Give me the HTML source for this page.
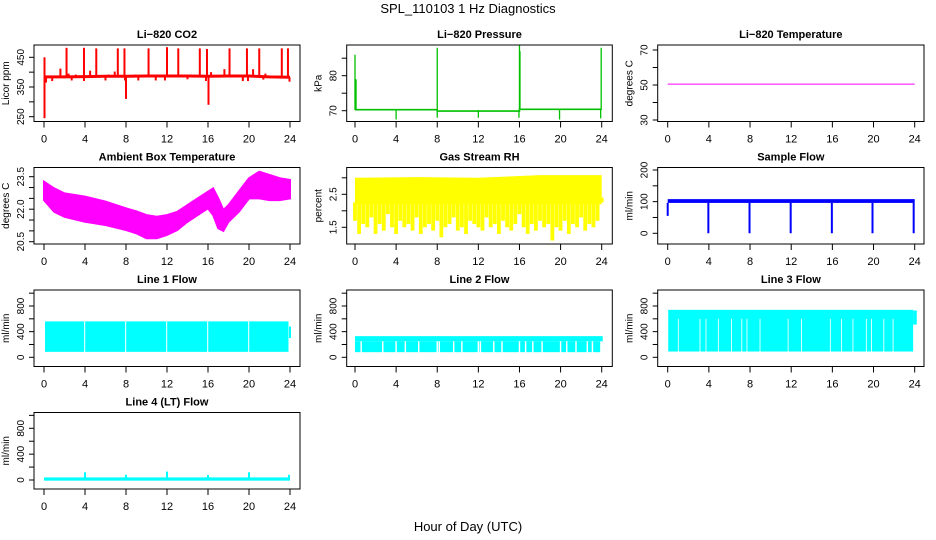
<!DOCTYPE html>
<html><head><meta charset="utf-8">
<style>
html,body{margin:0;padding:0;background:#fff;}
svg{display:block;font-family:"Liberation Sans",sans-serif;}
</style></head>
<body>
<svg id="chart" width="936" height="540" viewBox="0 0 936 540" xmlns="http://www.w3.org/2000/svg">
<text x="468" y="13" text-anchor="middle" font-size="13">SPL_110103  1 Hz Diagnostics</text>
<text x="468" y="531" text-anchor="middle" font-size="13">Hour of Day (UTC)</text>
</svg>
<script>
// ---- data ----
const xTicks = [0,4,8,12,16,20,24];
const co2BaseHours = [0,2,4,6,8,10,12,14,16,18,20,22,24];
const co2BaseVals = [384,384,385,386,386,387,387,387,386,387,387,384,383];
const co2UpSpikes = [[0.05,450],[1.6,412],[2.2,482],[2.4,395],[3.1,392],[3.9,482],[4.5,405],[5.1,480],[6.3,392],[6.9,402],[7.2,480],[7.85,480],[8.9,392],[10.2,480],[11.1,390],[12.0,484],[13.1,480],[14.2,392],[15.2,480],[15.9,478],[16.3,400],[17.6,410],[18.1,480],[19.8,480],[20.4,410],[21.0,480],[21.6,395],[23.2,480],[23.8,480]];
const co2DownSpikes = [[0.05,245],[0.2,365],[0.8,370],[2.7,372],[3.9,370],[6.0,372],[7.9,372],[8.0,310],[9.2,372],[10.9,372],[11.8,372],[14.0,376],[15.8,370],[16.05,290],[19.4,370],[19.9,370],[21.4,375],[23.95,368]];
const presBaseHours = [0,8,8,16,16,24];
const presBaseVals = [70.3,70.3,69.9,69.9,70.4,70.4];
const presSpikes = [[0.0,86],[0.1,79],[8.0,88],[16.0,89],[16.05,87],[23.95,88],[4,67.5],[8,68],[12,68],[15.95,68],[19.9,67.5],[23.9,67.8]];
const tempHours = [0,24];
const tempVals = [50.5,50.5];
const ambHours = [0,1,2,4,6,8,9,10,11,12,13,14,15,16,16.5,17,17.5,18,19,20,21,22,23,24];
const ambTop = [23.27,22.96,22.73,22.58,22.35,22.04,21.9,21.73,21.65,21.73,21.88,22.19,22.5,22.81,22.96,22.5,21.96,22.19,22.81,23.43,23.73,23.58,23.43,23.35];
const ambBot = [22.42,21.88,21.65,21.42,21.27,21.04,20.89,20.66,20.66,20.81,21.04,21.42,21.73,22.04,21.73,21.12,21.0,21.42,21.88,22.5,22.5,22.42,22.42,22.5];
const rhTopHours = [0,6,12,18,24];
const rhTop = [3.0,3.02,3.0,3.08,3.08];
const rhCoreBottom = 2.2;
const rhLow = [1.7,1.3,1.6,1.5,1.8,1.3,1.6,1.4,1.9,1.5,1.3,1.7,1.5,1.6,1.4,1.8,1.3,1.5,1.6,1.4,1.7,1.2,1.5,1.6,1.8,1.4,1.5,1.3,1.7,1.6,1.5,1.4,1.8,1.5,1.6,1.3,1.7,1.5,1.4,1.6,1.9,1.5,1.3,1.6,1.4,1.7,1.5,1.6,1.1,1.5,1.4,1.7,1.3,1.6,1.5,1.8,1.4,1.6,1.5,1.7,2.4];
const sfTop = 108, sfBottom = 96;
const sfDips = [[0.0,55],[3.95,0],[7.95,0],[11.95,0],[15.95,0],[19.9,0],[23.9,0]];
const l1Top = 560, l1Bottom = 85;
const l1Gaps = [3.97,7.97,11.97,15.97,19.97];
const l2Top = 330, l2Mid = 250, l2Bottom = 80;
const l2Gaps = [0.6,2.7,4.0,4.9,6.2,8.0,8.2,9.6,10.4,12.0,12.2,13.5,14.3,16.0,16.6,17.3,18.2,20.0,20.6,21.5,22.6,23.1];
const l3Top = 740, l3Bottom = 90, l3GapTop = 600;
const l3Gaps = [1.03,3.14,3.72,4.92,6.2,7.2,7.7,8.97,11.7,13.0,15.8,16.9,18.0,19.3,19.8,21.0,21.9];
const l4Base = 15;
const l4Spikes = [[4,120],[8,80],[12,130],[16,75],[20,120],[23.9,80]];

// ---- layout ----
const NS = "http://www.w3.org/2000/svg";
const svg = document.getElementById('chart');
const cols = [{l:34,r:300,x0:44,x24:290},{l:346.7,r:612.3,x0:355,x24:601.7},{l:657.7,r:924,x0:667.7,x24:914.7}];
const rows = [{t:45,b:121.5},{t:167.5,b:244},{t:290,b:366.5},{t:412.5,b:489}];
function mk(tag, a, parent){const e=document.createElementNS(NS,tag);for(const k in a)e.setAttribute(k,a[k]);(parent||svg).appendChild(e);return e;}

function panel(name,title,ytitle,col,row,ref,ticks,labels){
  const C=cols[col], R=rows[row];
  const g=mk('g',{});
  
  
  const xs=h=>C.x0+(C.x24-C.x0)*h/24;
  const ys=v=>ref[1]+(v-ref[0])*(ref[3]-ref[1])/(ref[2]-ref[0]);
  const clipId='clip-'+name;
  const cp=mk('clipPath',{id:clipId},g);
  mk('rect',{x:C.l,y:R.t,width:C.r-C.l,height:R.b-R.t},cp);
  const plot=mk('g',{'clip-path':'url(#'+clipId+')'},g);
  
  
  const box=mk('rect',{x:C.l,y:R.t,width:C.r-C.l,height:R.b-R.t,fill:'none',stroke:'#000','stroke-width':1},g);
  
  
  const t=mk('text',{x:(C.l+C.r)/2,y:R.t-7,'text-anchor':'middle','font-size':11,'font-weight':'bold'},g);
  t.textContent=title;
  
  
  const yt=mk('text',{x:0,y:0,'text-anchor':'middle','font-size':10,transform:`translate(${C.l-25},${(R.t+R.b)/2}) rotate(-90)`},g);
  yt.textContent=ytitle;
  
  
  xTicks.forEach(h=>{
    const x=xs(h);
    const tk=mk('line',{x1:x,x2:x,y1:R.b,y2:R.b+6,stroke:'#000'},g);
    
    
    const lb=mk('text',{x:x,y:R.b+21,'text-anchor':'middle','font-size':11},g);
    lb.textContent=h;
    
    
  });
  ticks.forEach(v=>{
    const y=ys(v);
    const tk=mk('line',{x1:C.l-5,x2:C.l,y1:y,y2:y,stroke:'#000'},g);
    
    
  });
  labels.forEach(v=>{
    const lb=mk('text',{x:0,y:0,'text-anchor':'middle','font-size':10,transform:`translate(${C.l-10},${ys(v)}) rotate(-90)`},g);
    lb.textContent=v;
    
    
  });
  return {plot,xs,ys};
}
function vline(p,x,y1,y2,color,w,nm){const l=mk('line',{x1:x,x2:x,y1:y1,y2:y2,stroke:color,'stroke-width':w},p);return l;}
function rect(p,x1,x2,y1,y2,color,nm){const r=mk('rect',{x:Math.min(x1,x2),y:Math.min(y1,y2),width:Math.abs(x2-x1),height:Math.abs(y2-y1),fill:color},p);return r;}

// CO2
{
 const P=panel('co2','Li\u2212820 CO2','Licor ppm',0,0,[450,57.3,250,116.7],[250,300,350,400,450],['250','350','450']);
 const pts=co2BaseHours.map((h,i)=>P.xs(h)+','+P.ys(co2BaseVals[i])).join(' ');
 const pl=mk('polyline',{points:pts,fill:'none',stroke:'#ff0000','stroke-width':3},P.plot);
 
 
 const base=h=>{let i=Math.min(Math.floor(h/2),11);return co2BaseVals[i]+(co2BaseVals[i+1]-co2BaseVals[i])*(h-co2BaseHours[i])/2;};
 co2UpSpikes.concat(co2DownSpikes).forEach(s=>vline(P.plot,P.xs(s[0]),P.ys(base(s[0])),P.ys(s[1]),'#ff0000',2,'co2-spike'));
}
// Pressure
{
 const P=panel('pressure','Li\u2212820 Pressure','kPa',1,0,[70,110.7,80,75.7],[70,75,80,85],['70','80']);
 const pts=presBaseHours.map((h,i)=>P.xs(h)+','+P.ys(presBaseVals[i])).join(' ');
 const pl=mk('polyline',{points:pts,fill:'none',stroke:'#00c000','stroke-width':1.6},P.plot);
 
 
 presSpikes.forEach(s=>vline(P.plot,P.xs(s[0]),P.ys(70.2),P.ys(s[1]),'#00c000',1.3,'pressure-spike'));
}
// Temperature
{
 const P=panel('temperature','Li\u2212820 Temperature','degrees C',2,0,[70,50,30,120],[30,40,50,60,70],['30','50','70']);
 const pts=tempHours.map((h,i)=>P.xs(h)+','+P.ys(tempVals[i])).join(' ');
 const pl=mk('polyline',{points:pts,fill:'none',stroke:'#ff00ff','stroke-width':1},P.plot);
 
 
}
// Ambient
{
 const P=panel('ambient','Ambient Box Temperature','degrees C',0,1,[23.5,176.7,20.5,241.7],[20.5,21,21.5,22,22.5,23,23.5],['20.5','22.0','23.5']);
 const top=ambHours.map((h,i)=>P.xs(h)+','+P.ys(ambTop[i]));
 const bot=ambHours.map((h,i)=>P.xs(h)+','+P.ys(ambBot[i])).reverse();
 const pg=mk('polygon',{points:top.concat(bot).join(' '),fill:'#ff00ff',stroke:'#ff00ff','stroke-width':2},P.plot);
 
 
}
// RH
{
 const P=panel('rh','Gas Stream RH','percent',1,1,[2.5,194.3,1.5,227.3],[1.5,2,2.5,3],['1.5','2.5']);
 const top=rhTopHours.map((h,i)=>P.xs(h)+','+P.ys(rhTop[i]));
 const pg=mk('polygon',{points:top.concat([P.xs(24)+','+P.ys(rhCoreBottom),P.xs(0)+','+P.ys(rhCoreBottom)]).join(' '),fill:'#ffff00'},P.plot);
 
 
 rhLow.forEach((v,i)=>{const h=i*24/(rhLow.length-1);vline(P.plot,P.xs(h),P.ys(rhCoreBottom+0.05),P.ys(v),'#ffff00',3.8,'rh-low-spike');});
}
// Sample flow
{
 const P=panel('sample-flow','Sample Flow','ml/min',2,1,[0,233.3,200,170],[0,50,100,150,200],['0','100','200']);
 rect(P.plot,P.xs(0),P.xs(24),P.ys(sfBottom),P.ys(sfTop),'#0000ff','sample-flow-band');
 sfDips.forEach(s=>vline(P.plot,P.xs(s[0]),P.ys(sfBottom),P.ys(s[1]),'#0000ff',2,'sample-flow-dip'));
}
const flowRef=[0,357.3,800,306], flowTicks=[0,200,400,600,800,1000], flowLabels=['0','400','800'];
// Line 1
{
 const P=panel('line1','Line 1 Flow','ml/min',0,2,flowRef,flowTicks,flowLabels);
 rect(P.plot,P.xs(0.1),P.xs(23.85),P.ys(l1Bottom),P.ys(l1Top),'#00ffff','line1-band');
 l1Gaps.forEach(h=>rect(P.plot,P.xs(h-0.05),P.xs(h+0.05),P.ys(l1Bottom-20),P.ys(l1Top+10),'#ffffff','line1-gap'));
 rect(P.plot,P.xs(23.9),P.xs(24.1),P.ys(300),P.ys(480),'#00ffff','line1-end');
}
// Line 2
{
 const P=panel('line2','Line 2 Flow','ml/min',1,2,flowRef,flowTicks,flowLabels);
 rect(P.plot,P.xs(0.0),P.xs(24.1),P.ys(l2Mid),P.ys(l2Top),'#00ffff','line2-band-top');
 rect(P.plot,P.xs(0.0),P.xs(23.85),P.ys(l2Bottom),P.ys(l2Mid),'#00ffff','line2-band-bottom');
 l2Gaps.forEach(h=>rect(P.plot,P.xs(h-0.07),P.xs(h+0.07),P.ys(l2Bottom-20),P.ys(l2Mid),'#ffffff','line2-gap'));
}
// Line 3
{
 const P=panel('line3','Line 3 Flow','ml/min',2,2,flowRef,flowTicks,flowLabels);
 rect(P.plot,P.xs(0.05),P.xs(23.85),P.ys(l3Bottom),P.ys(l3Top),'#00ffff','line3-band');
 rect(P.plot,P.xs(23.85),P.xs(24.2),P.ys(510),P.ys(730),'#00ffff','line3-end');
 l3Gaps.forEach(h=>rect(P.plot,P.xs(h-0.04),P.xs(h+0.04),P.ys(l3Bottom-20),P.ys(l3GapTop),'#ffffff','line3-gap'));
}
// Line 4
{
 const P=panel('line4','Line 4 (LT) Flow','ml/min',0,3,[0,480,800,428.3],flowTicks,flowLabels);
 rect(P.plot,P.xs(0),P.xs(24),P.ys(l4Base-25),P.ys(l4Base+25),'#00ffff','line4-baseline');
 l4Spikes.forEach(s=>vline(P.plot,P.xs(s[0]),P.ys(l4Base),P.ys(s[1]),'#00ffff',2,'line4-spike'));
}
</script>
</body></html>
